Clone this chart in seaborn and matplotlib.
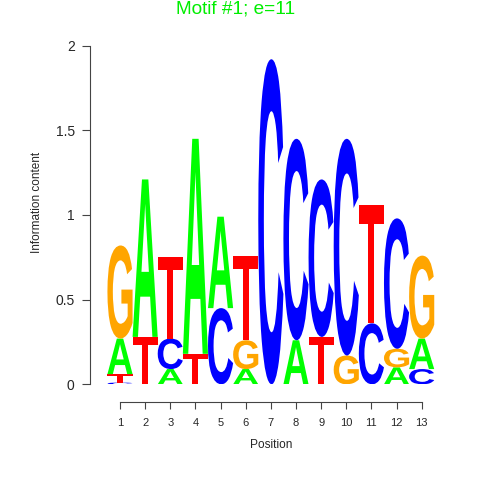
import matplotlib
matplotlib.use("Agg")
import matplotlib.pyplot as plt
import seaborn as sns
import pandas as pd
from matplotlib.textpath import TextPath
from matplotlib.patches import PathPatch
from matplotlib.font_manager import FontProperties
from matplotlib.transforms import Affine2D

# information content (bits) per letter
positions = list(range(1, 14))
bits_A = [0.21, 0.93, 0.09, 1.27, 0.54, 0.09, 0.00, 0.26, 0.00, 0.00, 0.00, 0.10, 0.18]
bits_C = [0.01, 0.00, 0.18, 0.00, 0.45, 0.00, 1.92, 1.19, 0.93, 1.28, 0.36, 0.77, 0.09]
bits_G = [0.55, 0.00, 0.00, 0.00, 0.00, 0.17, 0.00, 0.00, 0.00, 0.17, 0.00, 0.11, 0.49]
bits_T = [0.05, 0.28, 0.48, 0.18, 0.00, 0.50, 0.00, 0.00, 0.28, 0.00, 0.70, 0.00, 0.00]

colors = {"A": "#00FF00", "C": "#0000FF", "G": "#FFA500", "T": "#FF0000"}

df = pd.DataFrame({"position": positions, "A": bits_A, "C": bits_C,
                   "G": bits_G, "T": bits_T})
long = df.melt(id_vars="position", var_name="letter", value_name="bits")

sns.set_style("white")
plt.rcParams["font.family"] = ["Liberation Sans", "DejaVu Sans"]

W = 480
fig = plt.figure(figsize=(4.8, 4.8), dpi=100)
# plot region in pixels: x 90..451.6, y 45.7..384.3
ax = fig.add_axes([90 / W, (W - 384.3) / W, (451.6 - 90) / W, (384.3 - 45.7) / W])

letter_font = FontProperties(family="Liberation Sans", weight="bold")


def draw_letter(ax, letter, x, y0, h):
    tp = TextPath((0, 0), letter, size=1, prop=letter_font)
    ext = tp.get_extents()
    tr = (Affine2D()
          .translate(-ext.x0, -ext.y0)
          .scale(1.0 / ext.width, h / ext.height)
          .translate(x - 0.5, y0))
    ax.add_patch(PathPatch(tr.transform_path(tp), facecolor=colors[letter],
                           edgecolor="none", lw=0))


for pos, grp in long.groupby("position"):
    base = 0.0
    for _, row in grp.sort_values("bits", kind="stable").iterrows():
        if row["bits"] <= 0:
            continue
        draw_letter(ax, row["letter"], pos, base, row["bits"])
        base += row["bits"]

ax.set_xlim(1 - 30 / 25.14, 1 + (451.6 - 120) / 25.14)
ax.set_ylim(0, 2)

ax.set_yticks([0, 0.5, 1, 1.5, 2])
ax.set_yticklabels(["0", "0.5", "1", "1.5", "2"])
ax.set_xticks(positions)
ax.set_xticklabels([str(p) for p in positions])

axis_col = "#444444"
for side in ["top", "right"]:
    ax.spines[side].set_visible(False)
ax.spines["left"].set_bounds(0, 2)
ax.spines["bottom"].set_bounds(1, 13)
ax.spines["bottom"].set_position(("outward", 13))
for side in ["left", "bottom"]:
    ax.spines[side].set_color(axis_col)
    ax.spines[side].set_linewidth(0.8)

ax.tick_params(axis="y", direction="out", length=6, width=0.8, color=axis_col,
               pad=5, labelsize=10, left=True)
ax.tick_params(axis="x", direction="out", length=5, width=0.8, color=axis_col,
               pad=6, labelsize=8, bottom=True)

fig.text(37.5 / W, 1 - 202 / W, "Information content", rotation=90,
         ha="center", va="center", fontsize=8.5)
fig.text(270.8 / W, 1 - 445 / W, "Position", ha="center", va="center",
         fontsize=8.6)
fig.text(236 / W, 1 - 9 / W, "Motif #1; e=11", ha="center", va="center",
         fontsize=13.7, color="#00EE00")

fig.savefig("out.png", dpi=100)
